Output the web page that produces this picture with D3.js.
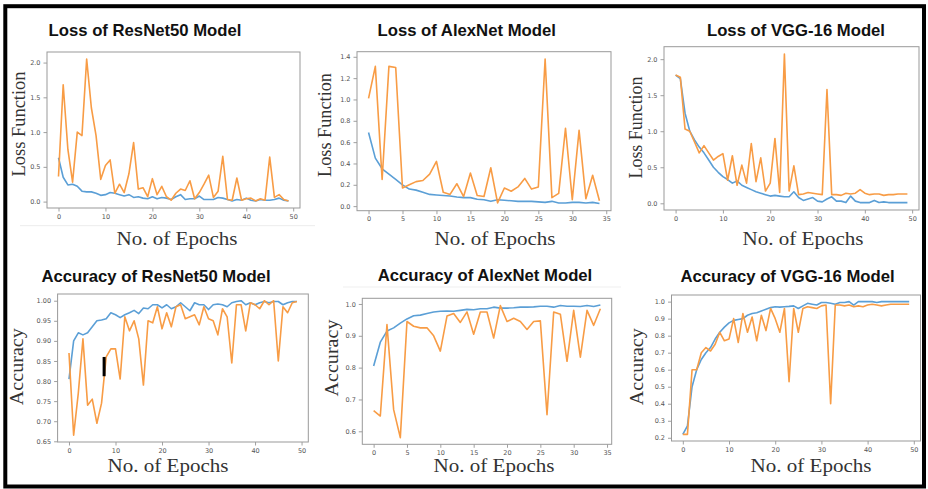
<!DOCTYPE html>
<html>
<head>
<meta charset="utf-8">
<script src="https://cdn.jsdelivr.net/npm/d3@7"></script>
<style>
  body { margin: 0; background: #fff; }
  .tick text { font-family: "DejaVu Sans", sans-serif; font-size: 6.5px; fill: #555; }
  .tick line { stroke: #888; stroke-width: 0.8; }
  .title { font-family: "Liberation Sans", Arial, sans-serif; font-weight: bold; font-size: 16.7px; fill: #111; }
  .axlabel { font-family: "Liberation Serif", "Times New Roman", serif; font-size: 18px; fill: #333; }
  .ylabel { font-size: 19.5px; }
</style>
</head>
<body>
<div id="chart"></div>
<script>
var width = 928,
  height = 489;

// ---- data ----
var resnetLossTrain = [0.63, 0.35, 0.24, 0.25, 0.22, 0.15, 0.14, 0.14, 0.12, 0.09,
  0.10, 0.13, 0.12, 0.10, 0.08, 0.10, 0.06, 0.07, 0.05, 0.04,
  0.07, 0.04, 0.06, 0.05, 0.03, 0.07, 0.10, 0.03, 0.04, 0.04,
  0.08, 0.03, 0.03, 0.03, 0.06, 0.05, 0.03, 0.01, 0.03, 0.02,
  0.05, 0.02, 0.01, 0.03, 0.02, 0.02, 0.03, 0.05, 0.02, 0.01];
var resnetLossVal = [0.36, 1.68, 0.75, 0.28, 1.00, 0.95, 2.05, 1.35, 0.95, 0.32,
  0.52, 0.60, 0.12, 0.25, 0.13, 0.40, 0.85, 0.18, 0.20, 0.07,
  0.33, 0.10, 0.22, 0.07, 0.02, 0.12, 0.18, 0.16, 0.30, 0.04,
  0.13, 0.25, 0.38, 0.06, 0.15, 0.65, 0.03, 0.02, 0.34, 0.02,
  0.04, 0.05, 0.01, 0.04, 0.02, 0.64, 0.06, 0.10, 0.03, 0.01];

var alexLossTrain = [0.69, 0.45, 0.35, 0.30, 0.25, 0.20, 0.16, 0.15, 0.13, 0.11,
  0.105, 0.10, 0.095, 0.085, 0.08, 0.08, 0.065, 0.06, 0.045, 0.06,
  0.055, 0.05, 0.045, 0.045, 0.045, 0.04, 0.035, 0.045, 0.03, 0.03,
  0.035, 0.035, 0.03, 0.035, 0.025];
var alexLossVal = [1.01, 1.31, 0.25, 1.31, 1.30, 0.17, 0.20, 0.23, 0.24, 0.30,
  0.42, 0.13, 0.11, 0.21, 0.09, 0.31, 0.10, 0.09, 0.36, 0.03,
  0.17, 0.14, 0.18, 0.26, 0.16, 0.18, 1.38, 0.08, 0.12, 0.73,
  0.06, 0.71, 0.07, 0.29, 0.05];

var vggLossTrain = [1.78, 1.73, 1.25, 1.00, 0.88, 0.78, 0.70, 0.60, 0.50, 0.43,
  0.37, 0.33, 0.28, 0.31, 0.25, 0.22, 0.19, 0.16, 0.14, 0.12,
  0.10, 0.11, 0.10, 0.09, 0.09, 0.16, 0.08, 0.04, 0.06, 0.08,
  0.03, 0.02, 0.06, 0.09, 0.03, 0.03, 0.01, 0.10, 0.03, 0.01,
  0.01, 0.01, 0.04, 0.01, 0.02, 0.01, 0.01, 0.01, 0.01, 0.01];
var vggLossVal = [1.78, 1.75, 1.03, 1.00, 0.85, 0.70, 0.80, 0.70, 0.60, 0.65,
  0.69, 0.32, 0.66, 0.25, 0.53, 0.28, 0.83, 0.30, 0.63, 0.17,
  0.28, 0.90, 0.15, 2.07, 0.17, 0.52, 0.12, 0.13, 0.15, 0.14,
  0.13, 0.12, 1.58, 0.12, 0.12, 0.11, 0.14, 0.13, 0.14, 0.19,
  0.14, 0.12, 0.13, 0.13, 0.11, 0.12, 0.12, 0.13, 0.13, 0.13];

var resnetAccTrain = [0.805, 0.90, 0.92, 0.915, 0.92, 0.935, 0.95, 0.952, 0.955, 0.97,
  0.965, 0.958, 0.965, 0.97, 0.976, 0.968, 0.982, 0.98, 0.99, 0.99,
  0.982, 0.99, 0.98, 0.985, 0.995, 0.985, 0.975, 0.995, 0.99, 0.99,
  0.978, 0.99, 0.992, 0.99, 0.985, 0.995, 0.998, 1.0, 0.99, 0.995,
  0.99, 0.995, 0.998, 0.995, 0.998, 0.998, 0.99, 0.995, 0.998, 0.998];
var resnetAccVal = [0.87, 0.665, 0.77, 0.905, 0.74, 0.755, 0.695, 0.745, 0.86, 0.88,
  0.88, 0.805, 0.96, 0.925, 0.95, 0.905, 0.79, 0.95, 0.945, 0.985,
  0.93, 0.97, 0.935, 0.985, 0.99, 0.955, 0.96, 0.965, 0.94, 0.985,
  0.955, 0.95, 0.915, 0.98, 0.96, 0.845, 0.99, 0.99, 0.925, 0.995,
  0.99, 0.98, 1.0, 0.99, 1.0, 0.85, 0.985, 0.97, 0.995, 0.998];

var alexAccTrain = [0.805, 0.88, 0.915, 0.925, 0.94, 0.953, 0.963, 0.965, 0.97, 0.975,
  0.977, 0.978, 0.977, 0.98, 0.983, 0.982, 0.985, 0.985, 0.99, 0.987,
  0.987, 0.988, 0.99, 0.99, 0.991, 0.993, 0.993, 0.99, 0.995, 0.993,
  0.993, 0.992, 0.995, 0.992, 0.997];
var alexAccVal = [0.665, 0.648, 0.935, 0.668, 0.58, 0.945, 0.93, 0.925, 0.925, 0.90,
  0.852, 0.962, 0.97, 0.942, 0.975, 0.905, 0.975, 0.975, 0.893, 0.995,
  0.945, 0.955, 0.945, 0.92, 0.945, 0.947, 0.652, 0.975, 0.968, 0.82,
  0.98, 0.833, 0.98, 0.933, 0.985];

var vggAccTrain = [0.22, 0.27, 0.50, 0.60, 0.66, 0.70, 0.73, 0.78, 0.82, 0.85,
  0.875, 0.89, 0.895, 0.90, 0.92, 0.93, 0.935, 0.945, 0.955, 0.965,
  0.97, 0.968, 0.97, 0.972, 0.975, 0.96, 0.975, 0.99, 0.985, 0.98,
  0.995, 0.995, 0.99, 0.985, 0.995, 0.995, 1.0, 0.98, 1.0, 1.0,
  1.0, 1.0, 0.995, 1.0, 1.0, 1.0, 1.0, 1.0, 1.0, 1.0];
var vggAccVal = [0.22, 0.22, 0.60, 0.60, 0.70, 0.73, 0.71, 0.75, 0.82, 0.77,
  0.78, 0.90, 0.76, 0.93, 0.82, 0.91, 0.77, 0.92, 0.83, 0.96,
  0.90, 0.82, 0.96, 0.53, 0.96, 0.82, 0.96, 0.97, 0.965, 0.96,
  0.975, 0.98, 0.40, 0.98, 0.98, 0.975, 0.98, 0.97, 0.975, 0.97,
  0.98, 0.985, 0.98, 0.975, 0.98, 0.985, 0.985, 0.985, 0.985, 0.985];

// tick labels
var epochTicks50 = [0, 10, 20, 30, 40, 50];
var epochTicks35 = [0, 5, 10, 15, 20, 25, 30, 35];
var lossTicks2 = [0, 0.5, 1.0, 1.5, 2.0];
var lossTicksAlex = [0, 0.2, 0.4, 0.6, 0.8, 1.0, 1.2, 1.4];
var accTicksResnet = [0.65, 0.70, 0.75, 0.80, 0.85, 0.90, 0.95, 1.00];
var accTicksAlex = [0.6, 0.7, 0.8, 0.9, 1.0];
var accTicksVgg = [0.2, 0.3, 0.4, 0.5, 0.6, 0.7, 0.8, 0.9, 1.0];

var titles = ["Loss of ResNet50 Model", "Loss of AlexNet Model", "Loss of VGG-16 Model",
  "Accuracy of ResNet50 Model", "Accuracy of AlexNet Model", "Accuracy of VGG-16 Model"];
var yLabels = ["Loss Function", "Loss Function", "Loss Function", "Accuracy", "Accuracy", "Accuracy"];
var xLabel = "No. of Epochs";

// stray black mark in the ResNet50 accuracy panel
var markBar = { epoch: 7.55, from: 0.812, to: 0.86 };

var trainColor = "#5b9fd6",
  valColor = "#f89c45";

// ---- layout ----
var panels = [
  { box: [47, 52, 300, 208], title: [145, 36], xlab: [177, 245], ylab: [24.5, 124], ylen: 105,
    train: resnetLossTrain, val: resnetLossVal, xTicks: epochTicks50, yTicks: lossTicks2, yFmt: ".1f" },
  { box: [357, 51.7, 611, 210.7], title: [466.7, 35.7], xlab: [495, 245], ylab: [330.5, 125], ylen: 104,
    train: alexLossTrain, val: alexLossVal, xTicks: epochTicks35, yTicks: lossTicksAlex, yFmt: ".1f" },
  { box: [664, 46.7, 919, 210], title: [796, 35.7], xlab: [803, 245], ylab: [641.5, 127.5], ylen: 102,
    train: vggLossTrain, val: vggLossVal, xTicks: epochTicks50, yTicks: lossTicks2, yFmt: ".1f" },
  { box: [57.6, 294, 308.3, 442], title: [156, 281.7], xlab: [168, 471.7], ylab: [23, 366.7], ylen: 77,
    train: resnetAccTrain, val: resnetAccVal, xTicks: epochTicks50, yTicks: accTicksResnet, yFmt: ".2f", mark: markBar },
  { box: [362.3, 298.3, 611.7, 444.3], title: [485, 281], xlab: [494, 471.7], ylab: [337.7, 358], ylen: 77,
    train: alexAccTrain, val: alexAccVal, xTicks: epochTicks35, yTicks: accTicksAlex, yFmt: ".1f" },
  { box: [671.5, 295, 920.5, 441], title: [787.5, 281.7], xlab: [811, 471.7], ylab: [643, 366.7], ylen: 77,
    train: vggAccTrain, val: vggAccVal, xTicks: epochTicks50, yTicks: accTicksVgg, yFmt: ".1f" }
];

var svg = d3.select("#chart")
  .append("svg")
  .attr("width", width)
  .attr("height", height)
  .style("display", "block");

svg.append("rect")
  .attr("width", width)
  .attr("height", height)
  .attr("fill", "#fff");

// faint leftovers of the pasted screenshots
svg.append("line").attr("x1", 20).attr("x2", 315).attr("y1", 225.7).attr("y2", 225.7)
  .attr("stroke", "#ececec").attr("stroke-width", 1);
svg.append("line").attr("x1", 343).attr("x2", 621).attr("y1", 287).attr("y2", 287)
  .attr("stroke", "#efefef").attr("stroke-width", 1);

panels.forEach(function(p, i) {
  drawPanel(p, i);
});

function drawPanel(p, i) {
  var g = svg.append("g").attr("class", "panel");
  var n = p.train.length;
  var xPad = (n - 1) * 0.05;
  var x = d3.scaleLinear()
    .domain([-xPad, n - 1 + xPad])
    .range([p.box[0], p.box[2]]);

  var all = p.train.concat(p.val);
  var yMin = d3.min(all),
    yMax = d3.max(all),
    yPad = (yMax - yMin) * 0.05;
  var y = d3.scaleLinear()
    .domain([yMin - yPad, yMax + yPad])
    .range([p.box[3], p.box[1]]);

  //x axis
  var xa = g.append("g")
    .attr("transform", "translate(0," + p.box[3] + ")")
    .call(d3.axisBottom(x).tickValues(p.xTicks).tickSize(3.5).tickPadding(2.5).tickFormat(d3.format("d")));
  xa.select(".domain").remove();

  //y axis
  var ya = g.append("g")
    .attr("transform", "translate(" + p.box[0] + ",0)")
    .call(d3.axisLeft(y).tickValues(p.yTicks).tickSize(3.5).tickPadding(3).tickFormat(d3.format(p.yFmt)));
  ya.select(".domain").remove();

  //lines
  var line = d3.line()
    .x(function(d, k) { return x(k); })
    .y(function(d) { return y(d); });

  g.append("path")
    .datum(p.train)
    .attr("d", line)
    .attr("fill", "none")
    .attr("stroke", trainColor)
    .attr("stroke-width", 1.6)
    .attr("stroke-linejoin", "round");

  g.append("path")
    .datum(p.val)
    .attr("d", line)
    .attr("fill", "none")
    .attr("stroke", valColor)
    .attr("stroke-width", 1.6)
    .attr("stroke-linejoin", "round");

  if (p.mark) {
    g.append("line")
      .attr("x1", x(p.mark.epoch)).attr("x2", x(p.mark.epoch))
      .attr("y1", y(p.mark.from)).attr("y2", y(p.mark.to))
      .attr("stroke", "#000")
      .attr("stroke-width", 3);
  }

  //frame
  g.append("rect")
    .attr("x", p.box[0])
    .attr("y", p.box[1])
    .attr("width", p.box[2] - p.box[0])
    .attr("height", p.box[3] - p.box[1])
    .attr("fill", "none")
    .attr("stroke", "#999")
    .attr("stroke-width", 1);

  //texts
  g.append("text")
    .attr("class", "title")
    .attr("x", p.title[0])
    .attr("y", p.title[1])
    .style("text-anchor", "middle")
    .text(titles[i]);

  g.append("text")
    .attr("class", "axlabel")
    .attr("x", p.xlab[0])
    .attr("y", p.xlab[1])
    .style("text-anchor", "middle")
    .attr("textLength", 121)
    .attr("lengthAdjust", "spacingAndGlyphs")
    .text(xLabel);

  g.append("text")
    .attr("class", "axlabel ylabel")
    .attr("transform", "translate(" + p.ylab[0] + "," + p.ylab[1] + ") rotate(-90)")
    .style("text-anchor", "middle")
    .attr("textLength", p.ylen)
    .attr("lengthAdjust", "spacingAndGlyphs")
    .text(yLabels[i]);
}

//outer border
svg.append("rect")
  .attr("x", 5.3)
  .attr("y", 6.2)
  .attr("width", 918.7)
  .attr("height", 480.3)
  .attr("fill", "none")
  .attr("stroke", "#000")
  .attr("stroke-width", 4);
</script>
</body>
</html>
